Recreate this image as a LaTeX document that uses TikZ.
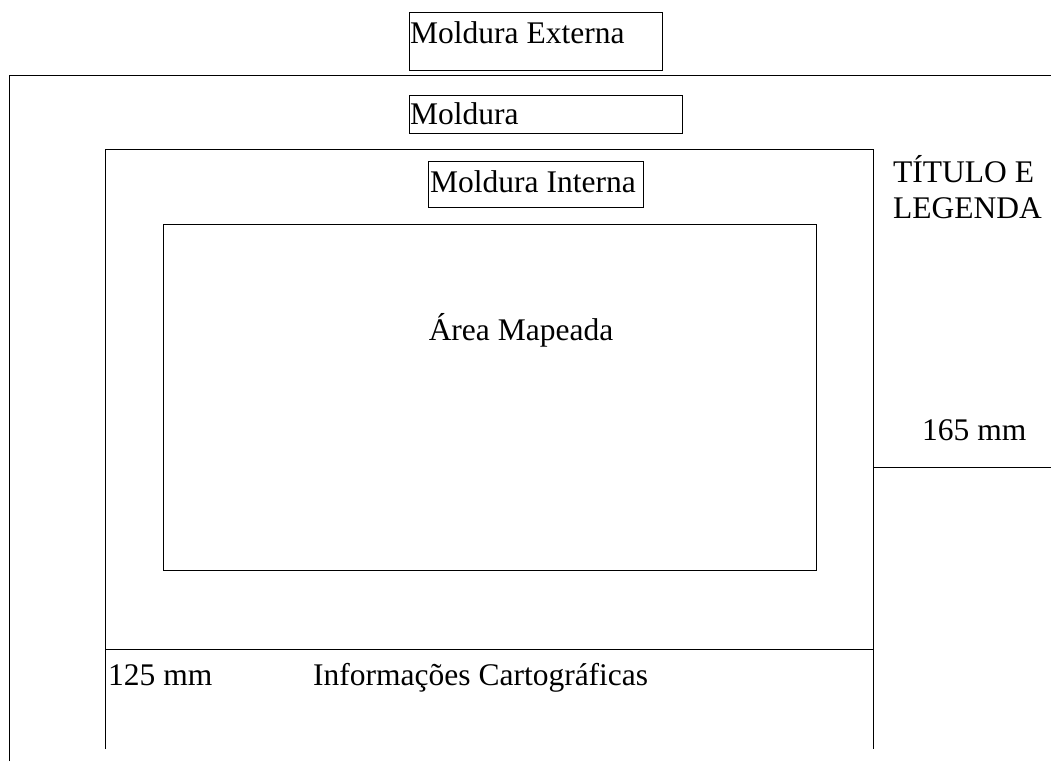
\documentclass[tikz,border=0pt]{standalone}
\usepackage{fontspec}
\setmainfont{Liberation Serif}
\tikzset{lbl/.style={anchor=base west, inner sep=0pt, font=\fontsize{31.5}{37}\selectfont},
 mid/.style={lbl, anchor=base},
 frm/.style={draw=black, line width=0.9pt},
 }

\begin{document}
\begin{tikzpicture}[x=1pt,y=-1pt]
        \useasboundingbox (0,0) rectangle (1051,761);
        % frames
        \draw[frm] (9,761) -- (9,75) -- (1051,75);
        \draw[frm] (105,749) -- (105,149) -- (873,149) -- (873,749);
        \draw[frm] (105,649) -- (873,649);
        \draw[frm] (873,467) -- (1051,467);
        \draw[frm] (163,224) rectangle (816,570);
        % label boxes
        \draw[frm] (409,12) rectangle (662,70);
        \draw[frm] (409,95) rectangle (682,133);
        \draw[frm] (428,161) rectangle (643,207);
        % texts
        \node[lbl] (externa) at (410,43) {Moldura Externa};
        \node[lbl] (moldura) at (410,124) {Moldura};
        \node[lbl] (interna) at (430,192) {Moldura Interna};
        \node[lbl] (titulo) at (893,182) {TÍTULO E};
        \node[lbl] (legenda) at (893,218) {LEGENDA};
        \node[mid] (area) at (521,340) {Área Mapeada};
        \node[lbl] (altura) at (922,440) {165 mm};
        \node[lbl] (largura) at (108,685) {125 mm};
        \node[lbl] (info) at (313,685) {Informações Cartográficas};
    \end{tikzpicture}
\end{document}
